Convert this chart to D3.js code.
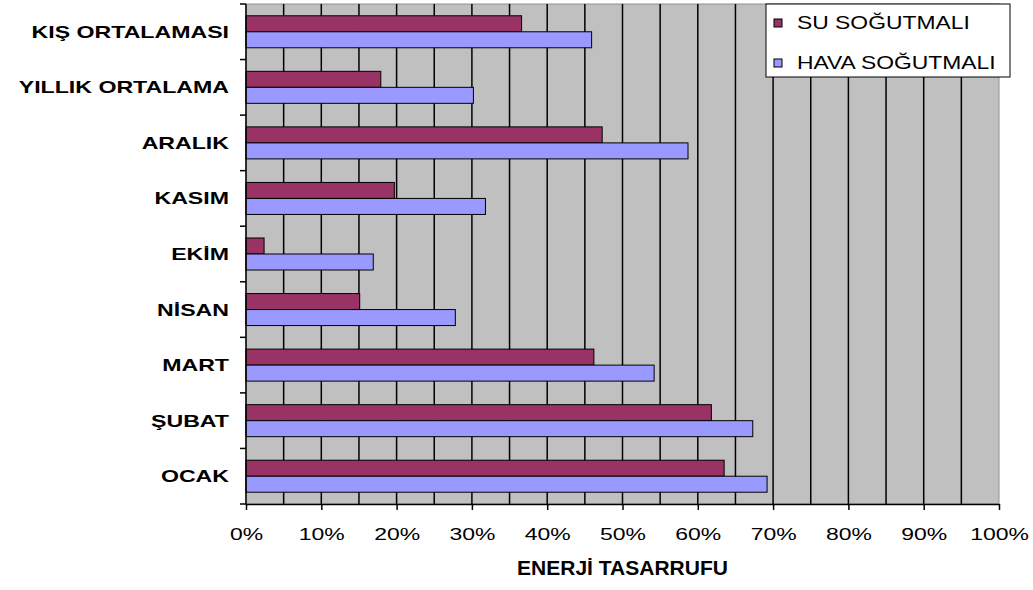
<!DOCTYPE html>
<html>
<head>
<meta charset="utf-8">
<script src="https://cdn.jsdelivr.net/npm/d3@7"></script>
<style>
  html, body { margin: 0; padding: 0; background: #fff; }
  svg { display: block; }
  text { font-family: "Liberation Sans", Arial, sans-serif; fill: #000; }
</style>
</head>
<body>
<svg id="chart" width="1033" height="590"></svg>
<script>
// Categories, top to bottom
const categories = ["KIŞ ORTALAMASI", "YILLIK ORTALAMA", "ARALIK", "KASIM", "EKİM", "NİSAN", "MART", "ŞUBAT", "OCAK"];
// Energy saving (%) per month
const suSogutmali   = [36.6, 17.9, 47.3, 19.7, 2.4, 15.1, 46.2, 61.8, 63.5];
const havaSogutmali = [45.9, 30.2, 58.7, 31.8, 16.9, 27.8, 54.2, 67.3, 69.2];
const seriesNames = ["SU SOĞUTMALI", "HAVA SOĞUTMALI"];
const xTicks = [0, 10, 20, 30, 40, 50, 60, 70, 80, 90, 100];
const xTitle = "ENERJİ TASARRUFU";

const series = [
  { name: seriesNames[0], values: suSogutmali,   color: "#993366" },
  { name: seriesNames[1], values: havaSogutmali, color: "#9999ff" }
];

const svg = d3.select("#chart");
const plot = { left: 246, right: 999, top: 4, bottom: 504 };

const x = d3.scaleLinear().domain([0, 100]).range([plot.left, plot.right]);
const y = d3.scaleBand().domain(categories).range([plot.top, plot.bottom])
  .paddingInner(0.424).paddingOuter(0.212);
const ySub = d3.scaleBand().domain(series.map(s => s.name)).range([0, y.bandwidth()]);

// stretch text horizontally by a factor (wide glyph look)
function stretch(sel, f) {
  sel.each(function () {
    const w = this.getComputedTextLength();
    d3.select(this).attr("textLength", w * f).attr("lengthAdjust", "spacingAndGlyphs");
  });
}

// plot background
svg.append("rect")
  .attr("x", plot.left).attr("y", plot.top)
  .attr("width", plot.right - plot.left).attr("height", plot.bottom - plot.top)
  .attr("fill", "#c0c0c0").attr("stroke", "#909090").attr("stroke-width", 1);

// vertical gridlines every 5%
svg.append("g").selectAll("line")
  .data(d3.range(5, 100, 5))
  .join("line")
  .attr("x1", d => x(d)).attr("x2", d => x(d))
  .attr("y1", plot.top).attr("y2", plot.bottom)
  .attr("stroke", "#000").attr("stroke-width", 1.5);

// bars
const groups = svg.append("g").selectAll("g")
  .data(categories)
  .join("g")
  .attr("transform", c => `translate(0,${y(c)})`);

groups.selectAll("rect")
  .data((c, i) => series.map(s => ({ name: s.name, value: s.values[i], color: s.color })))
  .join("rect")
  .attr("x", x(0))
  .attr("y", d => ySub(d.name))
  .attr("width", d => x(d.value) - x(0))
  .attr("height", ySub.bandwidth())
  .attr("fill", d => d.color)
  .attr("stroke", "#000")
  .attr("stroke-width", 1);

// left axis with category separators
const step = y.step();
const leftAxis = svg.append("g");
leftAxis.append("line")
  .attr("x1", plot.left).attr("x2", plot.left)
  .attr("y1", plot.top).attr("y2", plot.bottom)
  .attr("stroke", "#000").attr("stroke-width", 1.5);
leftAxis.selectAll("line.tick")
  .data(d3.range(categories.length + 1))
  .join("line")
  .attr("class", "tick")
  .attr("x1", plot.left - 6).attr("x2", plot.left)
  .attr("y1", i => plot.top + i * step).attr("y2", i => plot.top + i * step)
  .attr("stroke", "#000").attr("stroke-width", 1.5);

const catLabels = leftAxis.selectAll("text")
  .data(categories)
  .join("text")
  .attr("x", 229)
  .attr("y", c => y(c) + y.bandwidth() / 2 + 6)
  .attr("text-anchor", "end")
  .attr("font-size", 17)
  .attr("font-weight", "bold")
  .text(c => c);
stretch(catLabels, 1.36);

// bottom axis
const bottomAxis = svg.append("g")
  .attr("transform", `translate(0,${plot.bottom})`)
  .call(d3.axisBottom(x).tickValues(xTicks).tickSize(6).tickSizeOuter(0)
    .tickFormat(d => d + "%"));
bottomAxis.select(".domain").attr("stroke", "#000").attr("stroke-width", 1.5);
bottomAxis.selectAll(".tick line").attr("stroke", "#000").attr("stroke-width", 1.5);
const tickText = bottomAxis.selectAll(".tick text")
  .attr("y", 24)
  .attr("font-size", 17)
  .attr("font-family", "Liberation Sans, Arial, sans-serif")
  .attr("fill", "#111");
stretch(tickText, 1.35);

// axis title
const title = svg.append("text")
  .attr("x", (x(0) + x(100)) / 2)
  .attr("y", 575)
  .attr("text-anchor", "middle")
  .attr("font-size", 21)
  .attr("font-weight", "bold")
  .text(xTitle);
stretch(title, 1.0);

// legend
const legend = svg.append("g");
legend.append("rect")
  .attr("x", 766).attr("y", 4).attr("width", 244).attr("height", 73)
  .attr("fill", "#fff").attr("stroke", "#000").attr("stroke-width", 1);
const items = legend.selectAll("g.item")
  .data(series)
  .join("g")
  .attr("class", "item")
  .attr("transform", (d, i) => `translate(774,${19 + i * 40})`);
items.append("rect")
  .attr("width", 8).attr("height", 8)
  .attr("fill", d => d.color).attr("stroke", "#000").attr("stroke-width", 1);
const legText = items.append("text")
  .attr("x", 23).attr("y", 10)
  .attr("font-size", 18)
  .text(d => d.name);
stretch(legText, 1.27);
</script>
</body>
</html>
